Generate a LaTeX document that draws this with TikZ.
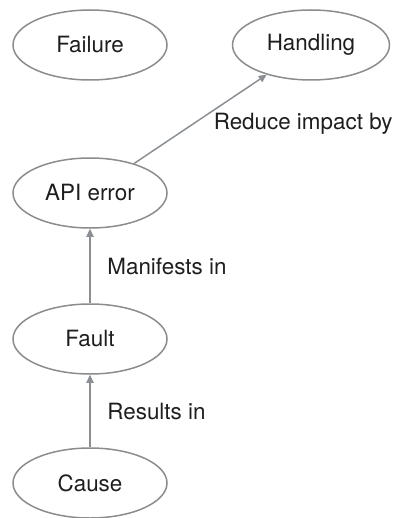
\documentclass[tikz,border=0pt]{standalone}
\usepackage{fontspec}
\setmainfont{TeX Gyre Heros}
\usetikzlibrary{shapes.geometric,arrows.meta}
\definecolor{ovalgray}{RGB}{140,140,140}
\definecolor{arrowgray}{RGB}{138,143,150}
\definecolor{textdark}{RGB}{30,30,30}
\begin{document}
\begin{tikzpicture}[x=0.5pt,y=-0.5pt,
		oval/.style={ellipse, draw=ovalgray, line width=0.75pt, minimum width=77pt, minimum height=35pt, inner sep=0pt, text=textdark, font=\fontsize{11.2}{13}\selectfont},
		link/.style={arrowgray, line width=0.75pt, -{Triangle[length=4pt,width=3.6pt]}},
		lbl/.style={text=textdark, font=\fontsize{11.2}{13}\selectfont}]
		\useasboundingbox (0,0) rectangle (392,518);
		\node[oval] (failure) at (90,45) {Failure};
		\node[oval, minimum width=78.5pt] (handling) at (311,45) {Handling};
		\node[oval] (apierror) at (90,193) {API error};
		\node[oval] (fault) at (90,339) {Fault};
		\node[oval] (cause) at (90,483) {Cause};
		\draw[link] (cause) -- (fault) node[lbl, midway, right, xshift=5pt] {Results in};
		\draw[link] (fault) -- (apierror) node[lbl, midway, right, xshift=5pt] {Manifests in};
		\draw[link] (apierror) -- (handling) node[lbl, midway, anchor=west, xshift=3pt, yshift=-2.5pt] {Reduce impact by};
	\end{tikzpicture}
\end{document}
